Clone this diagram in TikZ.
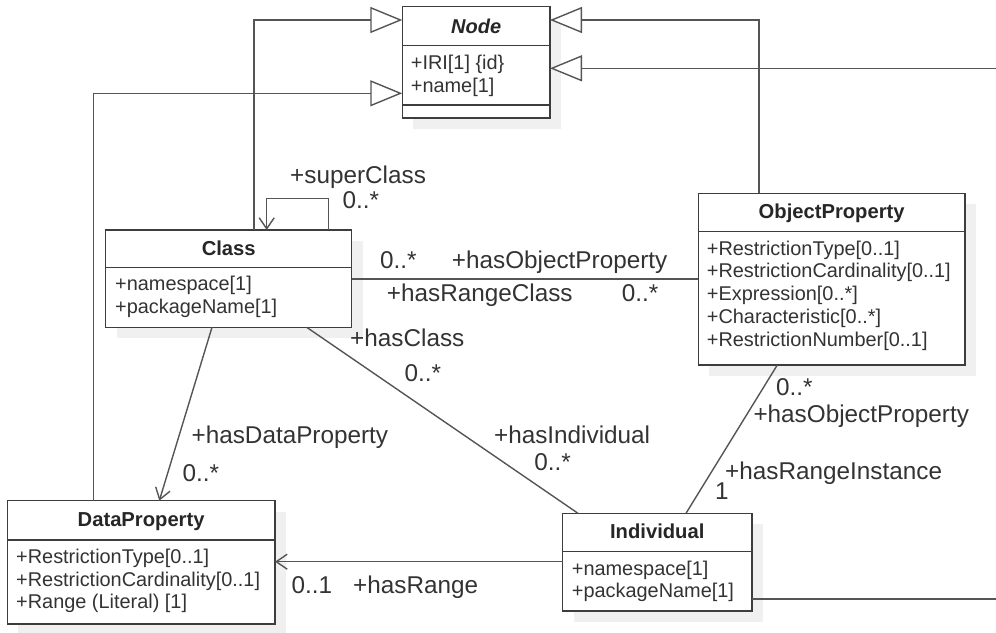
\documentclass[tikz,border=0pt]{standalone}
\usepackage{fontspec}
\setmainfont{Liberation Sans}
\usetikzlibrary{arrows.meta,backgrounds}
\definecolor{boxc}{HTML}{3D3D3D}
\definecolor{linec}{HTML}{555555}
\definecolor{txtc}{HTML}{333333}
\definecolor{shadc}{HTML}{F0F0F0}
\begin{document}
\begin{tikzpicture}[x=1pt,y=-1pt,
 umlbox/.style={draw=boxc,line width=1.5pt,fill=white,anchor=north west,inner sep=0pt,outer sep=0pt},
 shad/.style={fill=shadc},
 sep/.style={draw=boxc,line width=1.5pt},
 title/.style={anchor=base,inner sep=0pt,font=\fontsize{20.2}{22}\selectfont\bfseries,text=black!85},
 attr/.style={anchor=base west,inner sep=0pt,font=\fontsize{19.9}{22}\selectfont,text=txtc},
 lbl/.style={anchor=base west,inner sep=0pt,font=\fontsize{24.3}{28}\selectfont,text=txtc},
 conn/.style={draw=linec,line width=1.4pt},
 gen/.style={conn,-{Triangle[open,length=32pt,width=26pt,fill=white]}},
 nav/.style={conn,-{Straight Barb[length=11pt,width=15pt]}},
]
\useasboundingbox (0,0) rectangle (996,632);

% boxes
\node[umlbox,minimum width=147.7pt,minimum height=111.3pt] (nd) at (402.3,6.7) {};
\node[umlbox,minimum width=246pt,minimum height=97.3pt] (cls) at (105.7,230) {};
\node[umlbox,minimum width=266.7pt,minimum height=171.7pt] (op) at (698.3,193.3) {};
\node[umlbox,minimum width=267.7pt,minimum height=123.3pt] (dp) at (7.3,500.7) {};
\node[umlbox,minimum width=189.5pt,minimum height=97.7pt] (ind) at (562.5,513.3) {};

% shadows
\begin{scope}[on background layer]
\foreach \b in {nd,cls,op,dp,ind}
  \fill[shad] ([shift={(11,11)}]\b.north west) rectangle ([shift={(11,11)}]\b.south east);
\end{scope}

% compartments
\draw[sep] (nd.west |- 0,45.7) -- (nd.east |- 0,45.7);
\draw[sep] (nd.west |- 0,105) -- (nd.east |- 0,105);
\draw[sep] (cls.west |- 0,267.7) -- (cls.east |- 0,267.7);
\draw[sep] (op.west |- 0,231.7) -- (op.east |- 0,231.7);
\draw[sep] (dp.west |- 0,540) -- (dp.east |- 0,540);
\draw[sep] (ind.west |- 0,551.7) -- (ind.east |- 0,551.7);

% titles
\node[title,font=\fontsize{20}{22}\selectfont\bfseries\itshape] (ndT) at (nd.north |- 0,33.3) {Node};
\node[title] (clsT) at (cls.north |- 0,255) {Class};
\node[title] (opT) at (op.north |- 0,218.3) {ObjectProperty};
\node[title] (dpT) at (dp.north |- 0,526.7) {DataProperty};
\node[title] (indT) at (ind.north |- 0,538.3) {Individual};

% attributes
\foreach \t [count=\i] in {{+IRI[1] \{id\}},{+name[1]}}
  \node[attr] (ndA\i) at (410.7,{69.5+22.7*(\i-1)}) {\t};
\foreach \t [count=\i] in {{+namespace[1]},{+packageName[1]}}
  \node[attr] (clsA\i) at (115,{290.7+22.7*(\i-1)}) {\t};
\foreach \t [count=\i] in {{+RestrictionType[0..1]},{+RestrictionCardinality[0..1]},{+Expression[0..*]},{+Characteristic[0..*]},{+RestrictionNumber[0..1]}}
  \node[attr] (opA\i) at (706.7,{255+22.9*(\i-1)}) {\t};
\foreach \t [count=\i] in {{+RestrictionType[0..1]},{+RestrictionCardinality[0..1]},{+Range (Literal) [1]}}
  \node[attr] (dpA\i) at (16,{563.3+22.7*(\i-1)}) {\t};
\foreach \t [count=\i] in {{+namespace[1]},{+packageName[1]}}
  \node[attr] (indA\i) at (571.7,{575+22.7*(\i-1)}) {\t};

% free ends
\coordinate (r1) at (996,68.3);
\coordinate (r2) at (996,599);

% generalizations
\draw[gen] (254,0 |- cls.north) |- (nd.west |- 0,20);
\draw[gen] (93.3,0 |- dp.north) |- (nd.west |- 0,93.3);
\draw[gen] (759,0 |- op.north) |- (nd.east |- 0,20);
\draw[gen] (r1) -- (nd.east |- r1);

% associations
\draw[nav] (328.3,0 |- cls.north) -- (328.3,198.3) -- (266.7,198.3) -- (266.7,0 |- cls.north);
\draw[nav] (212,0 |- cls.south) -- (159.3,0 |- dp.north);
\draw[conn] (306.7,0 |- cls.south) -- (578,0 |- ind.north);
\draw[conn] (cls.east |- 0,279) -- (op.west |- 0,279);
\draw[conn] (777.3,0 |- op.south) -- (686,0 |- ind.north);
\draw[nav] (ind.west |- 0,561.7) -- (dp.east |- 0,561.7);
\draw[conn] (ind.east |- r2) -- (r2);

% labels
\node[lbl] (l1) at (290,183.3) {+superClass};
\node[lbl] (l2) at (342.3,208.3) {0..*};
\node[lbl] (l3) at (380,268.3) {0..*};
\node[lbl] (l4) at (451.7,268.3) {+hasObjectProperty};
\node[lbl] (l5) at (386.7,301.7) {+hasRangeClass};
\node[lbl] (l6) at (621.7,301.7) {0..*};
\node[lbl] (l7) at (350,346) {+hasClass};
\node[lbl] (l8) at (404.4,381.7) {0..*};
\node[lbl] (l9) at (191.4,443.3) {+hasDataProperty};
\node[lbl] (l10) at (182.3,481.7) {0..*};
\node[lbl] (l11) at (493.9,443.3) {+hasIndividual};
\node[lbl] (l12) at (534.2,470) {0..*};
\node[lbl] (l13) at (776,395) {0..*};
\node[lbl] (l14) at (753.3,422.3) {+hasObjectProperty};
\node[lbl] (l15) at (725,479) {+hasRangeInstance};
\node[lbl] (l16) at (715,499.3) {1};
\node[lbl] (l17) at (291.4,593.3) {0..1};
\node[lbl] (l18) at (353,593.3) {+hasRange};
\end{tikzpicture}
\end{document}
